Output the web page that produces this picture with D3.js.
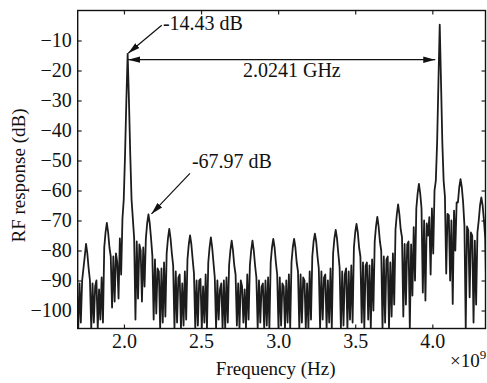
<!DOCTYPE html>
<html>
<head>
<meta charset="utf-8">
<script src="https://cdn.jsdelivr.net/npm/d3@7"></script>
<style>
    html, body { margin: 0; padding: 0; background: #fff; }
    svg { display: block; }
</style>
</head>
<body>
<div id="chart"></div>
<script>
// Spectrum sweep: first sample frequency and sample spacing (Hz)
const sweepStartHz = 1.69508e9;
const sweepStepHz = 8.4338e6;

// RF response (dB), one row per side-mode period
const rfResponseDb = [
    -93, -106, -91, -104, -90, -86, -82,
    -77.8, -81, -86, -90, -106, -91, -104, -92, -90, -106, -93, -103, -89, -104, -79, -74,
    -70.8, -74, -79, -82, -99, -82, -97, -81, -84, -96, -76, -88, -69.4, -63, -48, -30,
    -14.43, -30, -48, -63, -69.4, -76, -103, -77, -96, -78, -80, -97, -79, -92, -76, -71,
    -67.97, -71, -76, -81.7, -103, -83, -101, -86, -87, -106, -86, -104, -84, -102, -81, -76,
    -72.8, -76, -81, -85, -106, -87, -104, -89, -88, -106, -91, -105, -87, -103, -83, -78,
    -75, -78, -83, -87.6, -106, -90, -105, -90, -89.5, -106, -92, -104, -88, -106, -84, -79,
    -75.6, -79, -84, -89, -106, -90, -103, -93, -91, -106, -90, -106, -89, -104, -85, -80,
    -76.7, -80, -85, -88, -105, -91, -106, -90, -92, -104, -93, -106, -88, -103, -85, -80,
    -76.7, -80, -85, -89, -106, -90, -104, -92, -91, -106, -90, -105, -89, -106, -84, -79,
    -76.1, -79, -84, -88, -106, -89, -105, -91, -92, -106, -90, -104, -88, -106, -84, -79,
    -76.1, -79, -84, -87, -106, -88, -104, -89, -90, -106, -91, -106, -87, -103, -82, -77,
    -74.4, -77, -82, -86, -106, -87, -103, -89, -88, -106, -90, -104, -86, -106, -81, -76,
    -73.1, -76, -81, -85.6, -106, -87, -105, -88, -86, -106, -87, -103, -85, -104, -79, -74,
    -71.1, -74, -79, -82, -104, -84, -106, -85, -84, -103, -85, -106, -83, -100, -77, -72,
    -68.8, -72, -77, -80, -106, -82, -104, -83, -82, -106, -84, -102, -81, -98, -73, -68,
    -64.6, -68, -73, -75.6, -102, -77.8, -98, -78, -77, -106, -78, -95, -72.2, -90, -66, -61,
    -57.8, -61, -66, -94, -70, -96.7, -71, -75, -68.9, -88, -66, -81, -60, -56.7, -44, -24,
    -4.7, -24, -44, -56.7, -62, -87.7, -67.8, -68.3, -90, -70, -97.8, -66.7, -80, -64, -64, -59,
    -56.2, -59, -64, -71.7, -106, -72, -73.3, -95.6, -74, -75, -104, -76.7, -98, -74, -70, -65,
    -62.3, -65, -70, -76, -100
];

const xTickValues = [2.0e9, 2.5e9, 3.0e9, 3.5e9, 4.0e9];
const yTickValues = [-10, -20, -30, -40, -50, -60, -70, -80, -90, -100];

// Annotations
const mainPeakHz = 2.024e9;
const mainPeakDb = -14.43;
const modeSpacingHz = 2.0241e9;
const sideModeHz = 2.159e9;
const sideModeDb = -67.97;
const spacingArrowDb = -16.4;

const serif = '"Liberation Serif", "Times New Roman", Times, serif';

const config = {
    width: 487,
    height: 383,
    margin: { top: 10.5, right: 1.5, bottom: 54.5, left: 77.7 }
};

const { width, height, margin } = config;
const innerWidth = width - margin.left - margin.right;
const innerHeight = height - margin.top - margin.bottom;

const trace = rfResponseDb.map((db, i) => ({ hz: sweepStartHz + i * sweepStepHz, db }));

const svg = d3.select('#chart').append('svg')
    .attr('width', width)
    .attr('height', height)
    .attr('font-family', serif);

const defs = svg.append('defs');

defs.append('clipPath')
    .attr('id', 'plot-clip')
    .append('rect')
    .attr('width', innerWidth)
    .attr('height', innerHeight);

defs.append('marker')
    .attr('id', 'arrow')
    .attr('viewBox', '0 -4 12 8')
    .attr('refX', 12)
    .attr('refY', 0)
    .attr('markerUnits', 'userSpaceOnUse')
    .attr('markerWidth', 12)
    .attr('markerHeight', 8)
    .attr('orient', 'auto-start-reverse')
    .append('path')
    .attr('d', 'M0,-3.2L12,0L0,3.2Z')
    .attr('fill', '#111');

const g = svg.append('g')
    .attr('transform', `translate(${margin.left},${margin.top})`);

const x = d3.scaleLinear()
    .domain([1.70e9, 4.345e9])
    .range([0, innerWidth]);

const y = d3.scaleLinear()
    .domain([-106, 0])
    .range([innerHeight, 0]);

// Axes, ticks pointing inward on all four sides
const fmtX = d => (d / 1e9).toFixed(1);

g.append('g')
    .attr('class', 'axis')
    .attr('transform', `translate(0,${innerHeight})`)
    .call(d3.axisBottom(x).tickValues(xTickValues).tickFormat(fmtX).tickSize(-4).tickPadding(5));

g.append('g')
    .attr('class', 'axis')
    .call(d3.axisTop(x).tickValues(xTickValues).tickFormat('').tickSize(-4));

g.append('g')
    .attr('class', 'axis')
    .call(d3.axisLeft(y).tickValues(yTickValues).tickSize(-4).tickPadding(6));

g.append('g')
    .attr('class', 'axis')
    .attr('transform', `translate(${innerWidth},0)`)
    .call(d3.axisRight(y).tickValues(yTickValues).tickFormat('').tickSize(-4));

g.selectAll('.axis').attr('font-family', serif).attr('font-size', 20);
g.selectAll('.axis .domain').remove();
g.selectAll('.axis line').attr('stroke', '#222').attr('stroke-width', 1.2);
g.selectAll('.axis text')
    .style('font-family', serif)
    .style('font-size', '20px')
    .attr('fill', '#111');

// Spectrum trace
const line = d3.line()
    .x(d => x(d.hz))
    .y(d => y(d.db));

g.append('g')
    .attr('clip-path', 'url(#plot-clip)')
    .append('path')
    .datum(trace)
    .attr('fill', 'none')
    .attr('stroke', '#1c1c1c')
    .attr('stroke-width', 1.8)
    .attr('stroke-linejoin', 'round')
    .attr('d', line);

// Frame
g.append('rect')
    .attr('width', innerWidth)
    .attr('height', innerHeight)
    .attr('fill', 'none')
    .attr('stroke', '#111')
    .attr('stroke-width', 1.4);

// Annotation: main peak level
const ann = g.append('g').attr('class', 'annotations');

ann.append('line')
    .attr('x1', x(2.245e9))
    .attr('y1', y(-4.9))
    .attr('x2', x(mainPeakHz) + 0.5)
    .attr('y2', y(mainPeakDb) - 0.5)
    .attr('stroke', '#111')
    .attr('stroke-width', 1.2)
    .attr('marker-end', 'url(#arrow)');

ann.append('text')
    .attr('x', x(2.253e9))
    .attr('y', y(-6.6))
    .style('font-family', serif)
    .style('font-size', '20px')
    .attr('fill', '#111')
    .text(`${mainPeakDb.toFixed(2)} dB`);

// Annotation: mode spacing
ann.append('line')
    .attr('x1', x(mainPeakHz) + 0.5)
    .attr('y1', y(spacingArrowDb))
    .attr('x2', x(mainPeakHz + modeSpacingHz) - 4.5)
    .attr('y2', y(spacingArrowDb))
    .attr('stroke', '#111')
    .attr('stroke-width', 1.2)
    .attr('marker-start', 'url(#arrow)')
    .attr('marker-end', 'url(#arrow)');

ann.append('text')
    .attr('x', x(2.772e9))
    .attr('y', y(-22.2))
    .style('font-family', serif)
    .style('font-size', '20px')
    .attr('fill', '#111')
    .text(`${(modeSpacingHz / 1e9).toFixed(4)} GHz`);

// Annotation: strongest side mode
ann.append('line')
    .attr('x1', x(2.428e9))
    .attr('y1', y(-54.3))
    .attr('x2', x(sideModeHz) + 3)
    .attr('y2', y(sideModeDb) - 0.5)
    .attr('stroke', '#111')
    .attr('stroke-width', 1.2)
    .attr('marker-end', 'url(#arrow)');

ann.append('text')
    .attr('x', x(2.441e9))
    .attr('y', y(-52.6))
    .style('font-family', serif)
    .style('font-size', '20px')
    .attr('fill', '#111')
    .text(`${sideModeDb.toFixed(2)} dB`);

// Axis titles
svg.append('text')
    .attr('x', margin.left + 198)
    .attr('y', 375)
    .attr('text-anchor', 'middle')
    .style('font-family', serif)
    .style('font-size', '19px')
    .attr('fill', '#111')
    .text('Frequency (Hz)');

svg.append('text')
    .attr('transform', `translate(25,${margin.top + 165}) rotate(-90)`)
    .attr('text-anchor', 'middle')
    .style('font-family', serif)
    .style('font-size', '19px')
    .attr('fill', '#111')
    .text('RF response (dB)');

const expo = svg.append('text')
    .attr('x', 450)
    .attr('y', 366.5)
    .style('font-family', serif)
    .style('font-size', '19px')
    .attr('fill', '#111');
expo.append('tspan').text('×10');
expo.append('tspan')
    .attr('dy', -8)
    .style('font-size', '13px')
    .text('9');
</script>
</body>
</html>
